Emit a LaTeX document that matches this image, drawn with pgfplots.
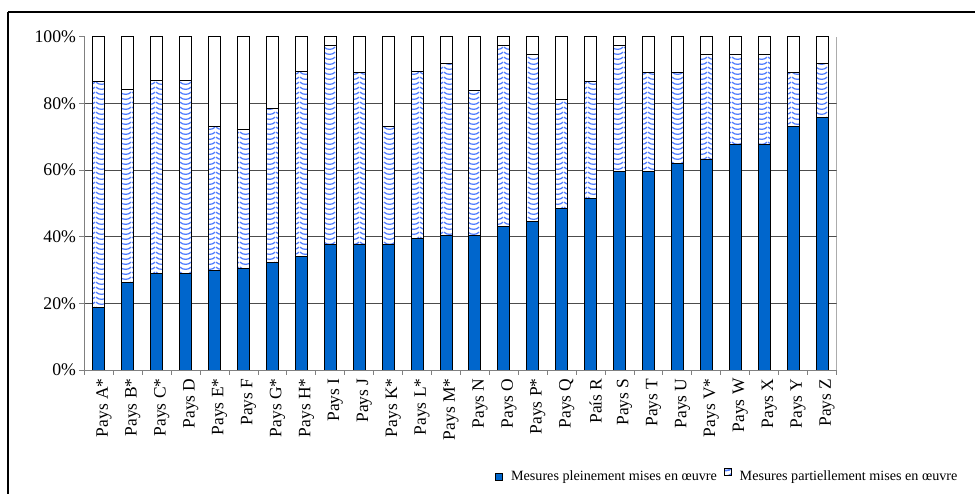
\documentclass[border=0pt]{standalone}
\usepackage{fontspec}
\setmainfont{Liberation Serif}
\usepackage{pgfplots}
\pgfplotsset{compat=1.18}
\usepackage{pgfplotstable}
\usetikzlibrary{patterns}
\definecolor{fullblue}{RGB}{0,102,204}
\definecolor{wavecol}{RGB}{80,125,255}
\pgfdeclarepatternformonly{waves}{\pgfpointorigin}{\pgfpoint{12bp}{5.4bp}}{\pgfpoint{12bp}{5.4bp}}{%
  \pgfsetlinewidth{1.35bp}%
  \pgfpathmoveto{\pgfpoint{0bp}{4.3bp}}%
  \pgfpathcurveto{\pgfpoint{3bp}{1bp}}{\pgfpoint{9bp}{1bp}}{\pgfpoint{12bp}{4.3bp}}%
  \pgfusepath{stroke}}

\pgfplotstableread{
x full partial none
0  18.9 67.6 13.5
1  26.3 57.8 15.9
2  28.9 57.9 13.2
3  28.9 57.9 13.2
4  29.8 43.2 27.0
5  30.5 41.8 27.7
6  32.4 46.0 21.6
7  34.2 55.3 10.5
8  37.8 59.5 2.7
9  37.8 51.4 10.8
10 37.8 35.2 27.0
11 39.5 50.0 10.5
12 40.5 51.4 8.1
13 40.5 43.3 16.2
14 43.2 54.1 2.7
15 44.7 50.0 5.3
16 48.6 32.5 18.9
17 51.4 35.1 13.5
18 59.5 37.8 2.7
19 59.5 29.7 10.8
20 62.0 27.2 10.8
21 63.2 31.5 5.3
22 67.6 27.1 5.3
23 67.6 27.1 5.3
24 73.0 16.2 10.8
25 75.7 16.2 8.1
}\data

\begin{document}
\begin{tikzpicture}
\useasboundingbox (0,0) rectangle (975bp,494bp);
\clip (0,0) rectangle (975bp,494bp);
\draw[line width=2bp] (8bp,482bp) -- (975bp,482bp);
\draw[line width=2bp] (8bp,482bp) -- (8bp,0bp);
\begin{axis}[
  at={(84.5bp,124bp)}, anchor=south west,
  scale only axis, width=752bp, height=333bp,
  ybar stacked, bar width=12bp,
  xmin=-0.5, xmax=25.5, ymin=0, ymax=100,
  xtick={0,...,25},
  xticklabels={Pays A*,Pays B*,Pays C*,Pays D,Pays E*,Pays F,Pays G*,Pays H*,Pays I,Pays J,Pays K*,Pays L*,Pays M*,Pays N,Pays O,Pays P*,Pays Q,País R,Pays S,Pays T,Pays U,Pays V*,Pays W,Pays X,Pays Y,Pays Z},
  minor xtick={-0.5,0.5,...,25.5},
  major x tick style={draw=none},
  minor x tick style={draw=gray, line width=1bp},
  y tick style={draw=gray, line width=1bp},
  major tick length=5bp, minor tick length=5bp,
  tick align=outside,
  x tick label style={rotate=90, anchor=east, yshift=-5bp, font=\fontsize{17.5}{20}\selectfont},
  y tick label style={font=\fontsize{17.8}{20}\selectfont},
  ytick={0,20,...,100},
  yticklabel={\pgfmathprintnumber{\tick}\%},
  /pgf/number format/assume math mode=true,
  extra y ticks={20,40,60,80},
  extra y tick labels={},
  extra y tick style={grid=major, major grid style={black!70, line width=1bp}, major tick length=0pt},
  axis x line*=bottom, axis y line*=left,
  axis line style={gray, line width=1bp},
  legend columns=2,
  legend style={at={(rel axis cs:0.546,-0.318)}, anchor=west, draw=none, fill=none,
    font=\fontsize{14.2}{16}\selectfont, inner sep=0pt,
    /tikz/every odd column/.append style={column sep=6bp},
    /tikz/every even column/.append style={column sep=5bp}},
]
\addplot[fill=fullblue, draw=black, line width=1bp,
  legend image code/.code={\draw[fill=fullblue, draw=black, line width=0.8bp] (0bp,-3.5bp) rectangle (7bp,3.5bp);}]
  table[x=x,y=full]{\data};
\addplot[fill=white, draw=black, line width=1bp, postaction={pattern=waves, pattern color=wavecol},
  legend image code/.code={\draw[fill=white, draw=black, line width=0.8bp, postaction={pattern=waves, pattern color=wavecol}] (0bp,1.5bp) rectangle (7bp,8.5bp);}]
  table[x=x,y=partial]{\data};
\addplot[fill=white, draw=black, line width=1bp]
  table[x=x,y=none]{\data};
\draw[gray, line width=1bp] (rel axis cs:1,0) -- (rel axis cs:1,1);
\legend{Mesures pleinement mises en œuvre,Mesures partiellement mises en œuvre}
\end{axis}
\end{tikzpicture}
\end{document}
